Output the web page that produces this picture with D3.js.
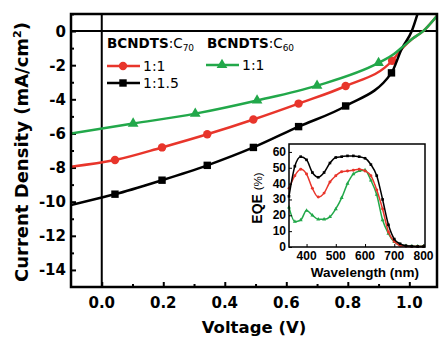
<!DOCTYPE html>
<html>
<head>
<meta charset="utf-8">
<script src="https://cdn.jsdelivr.net/npm/d3@7"></script>
<style>
    body { margin: 0; background: #fff; }
    svg { display: block; }
</style>
</head>
<body>
<svg id="chart_jv"></svg>
<script>
// J-V curves, values
const voltageBlack = [-0.1, 0, 0.043, 0.196, 0.343, 0.493, 0.64, 0.793, 0.942, 0.975, 1.008, 1.03];
const currentBlack = [-10.2, -9.75, -9.56, -8.74, -7.87, -6.82, -5.6, -4.39, -2.45, -1.05, 0, 1.2];
const marksBlack = [2, 3, 4, 5, 6, 7, 8];

const voltageRed = [-0.1, 0.043, 0.196, 0.343, 0.493, 0.64, 0.793, 0.944, 0.98, 1.01, 1.045, 1.09];
const currentRed = [-7.95, -7.56, -6.82, -6.05, -5.18, -4.25, -3.22, -1.74, -0.95, -0.45, 0, 0.9];
const marksRed = [1, 2, 3, 4, 5, 6, 7];

const voltageGreen = [-0.1, 0.102, 0.304, 0.505, 0.70, 0.90, 0.95, 0.98, 1.01, 1.045, 1.09];
const currentGreen = [-6.0, -5.42, -4.84, -4.07, -3.2, -1.87, -1.35, -0.9, -0.45, 0, 0.9];
const marksGreen = [1, 2, 3, 4, 5];

// EQE inset
const wavelength = [340, 360, 380, 400, 420, 440, 460, 480, 500, 520, 540, 560, 580, 600, 620, 640, 660, 680, 700, 720, 740, 760, 780, 800];
const eqeBlack = [32, 51, 57, 55, 47, 44, 47, 53, 56.5, 57, 57.5, 57.5, 57, 56, 52, 45, 30, 14, 5, 2, 0.8, 0.5, 0.3, 0.3];
const eqeRed = [37, 45, 49, 46, 37, 31.5, 34, 41, 45, 47.5, 48, 48.5, 49, 48, 45, 36, 24, 9.5, 3.5, 1, 0.5, 0.3, 0.3, 0.3];
const eqeGreen = [25, 16, 17, 23, 20, 17.5, 17.5, 19, 24, 31, 40, 46, 48, 48.5, 42, 33, 17, 8.5, 3.2, 1.5, 0.8, 0.5, 0.5, 0.5];

// Tick values
const xTicks = [0.0, 0.2, 0.4, 0.6, 0.8, 1.0];
const xMinorTicks = [0.1, 0.3, 0.5, 0.7, 0.9];
const yTicks = [0, -2, -4, -6, -8, -10, -12, -14];
const yMinorTicks = [1, -1, -3, -5, -7, -9, -11, -13];
const insetXTicks = [400, 500, 600, 700, 800];
const insetYTicks = [0, 10, 20, 30, 40, 50, 60];

const red = "#e8352b";
const green = "#22a84a";

const W = 439, H = 339;
const plot = { left: 71, right: 437, top: 14, bottom: 287 };
const inset = { left: 289, right: 425, top: 144, bottom: 247 };
const mainFont = "DejaVu Sans, sans-serif";
const insetFont = "Liberation Sans, Arial, sans-serif";

const svg = d3.select("#chart_jv")
    .attr("width", W)
    .attr("height", H);

svg.append("rect").attr("width", W).attr("height", H).attr("fill", "#fff");

const xScale = d3.scaleLinear().domain([-0.1, 1.09]).range([plot.left, plot.right]);
const yScale = d3.scaleLinear().domain([-15, 1]).range([plot.bottom, plot.top]);

svg.append("clipPath").attr("id", "plotClip")
    .append("rect")
    .attr("x", plot.left).attr("y", plot.top)
    .attr("width", plot.right - plot.left).attr("height", plot.bottom - plot.top);

// Zero lines
svg.append("line")
    .attr("x1", xScale(0)).attr("x2", xScale(0))
    .attr("y1", plot.top).attr("y2", plot.bottom)
    .attr("stroke", "#000").attr("stroke-width", 2);
svg.append("line")
    .attr("x1", plot.left).attr("x2", plot.right)
    .attr("y1", yScale(0)).attr("y2", yScale(0))
    .attr("stroke", "#000").attr("stroke-width", 2);

// Axes (ticks pointing inwards)
svg.append("g").attr("transform", `translate(0, ${plot.bottom})`)
    .call(d3.axisTop(xScale).tickValues(xTicks).tickSize(5).tickFormat(""))
    .call(g => g.select(".domain").remove())
    .selectAll("line").attr("stroke-width", 2);
svg.append("g").attr("transform", `translate(0, ${plot.bottom})`)
    .call(d3.axisTop(xScale).tickValues(xMinorTicks).tickSize(3).tickFormat(""))
    .call(g => g.select(".domain").remove())
    .selectAll("line").attr("stroke-width", 2);

svg.append("g").attr("transform", `translate(${plot.left}, 0)`)
    .call(d3.axisRight(yScale).tickValues(yTicks).tickSize(5).tickFormat(""))
    .call(g => g.select(".domain").remove())
    .selectAll("line").attr("stroke-width", 2);
svg.append("g").attr("transform", `translate(${plot.left}, 0)`)
    .call(d3.axisRight(yScale).tickValues(yMinorTicks).tickSize(3).tickFormat(""))
    .call(g => g.select(".domain").remove())
    .selectAll("line").attr("stroke-width", 2);

// Tick labels
svg.selectAll("xLabel")
    .data(xTicks)
    .join("text")
    .attr("x", d => xScale(d))
    .attr("y", 308)
    .attr("text-anchor", "middle")
    .style("font-family", mainFont).style("font-weight", "bold").style("font-size", "15px")
    .text(d => d3.format(".1f")(d));

svg.selectAll("yLabel")
    .data(yTicks)
    .join("text")
    .attr("x", 66)
    .attr("y", d => yScale(d) + 5.5)
    .attr("text-anchor", "end")
    .style("font-family", mainFont).style("font-weight", "bold").style("font-size", "15px")
    .text(d => d);

// Axis titles
svg.append("text")
    .attr("x", (plot.left + plot.right) / 2)
    .attr("y", 333)
    .attr("text-anchor", "middle")
    .style("font-family", mainFont).style("font-weight", "bold").style("font-size", "16.5px")
    .text("Voltage (V)");

const yTitle = svg.append("text")
    .attr("transform", "translate(28, 152) rotate(-90)")
    .attr("text-anchor", "middle")
    .style("font-family", mainFont).style("font-weight", "bold").style("font-size", "18px");
yTitle.append("tspan").text("Current Density (mA/cm");
yTitle.append("tspan").attr("dy", -7).style("font-size", "11px").text("2");
yTitle.append("tspan").attr("dy", 7).text(")");

// Series
const series = [
    { v: voltageRed, j: currentRed, marks: marksRed, color: red, symbol: d3.symbolCircle, size: 55 },
    { v: voltageBlack, j: currentBlack, marks: marksBlack, color: "#000", symbol: d3.symbolSquare, size: 55 },
    { v: voltageGreen, j: currentGreen, marks: marksGreen, color: green, symbol: d3.symbolTriangle, size: 50 },
];

const lineGenerator = d3.line()
    .x(d => xScale(d[0]))
    .y(d => yScale(d[1]))
    .curve(d3.curveMonotoneX);

const curves = svg.append("g").attr("clip-path", "url(#plotClip)");

series.forEach(s => {
    const pts = s.v.map((v, i) => [v, s.j[i]]);
    curves.append("path")
        .datum(pts)
        .attr("d", lineGenerator)
        .attr("fill", "none")
        .attr("stroke", s.color)
        .attr("stroke-width", 2.5);
    curves.selectAll(null)
        .data(s.marks.map(i => pts[i]))
        .join("path")
        .attr("transform", d => `translate(${xScale(d[0])}, ${yScale(d[1])})`)
        .attr("d", d3.symbol(s.symbol, s.size))
        .attr("fill", s.color);
});

// Frame
svg.append("rect")
    .attr("x", plot.left).attr("y", plot.top)
    .attr("width", plot.right - plot.left).attr("height", plot.bottom - plot.top)
    .attr("fill", "none").attr("stroke", "#000").attr("stroke-width", 2.5);

// Legend
function legendTitle(x, sub) {
    const t = svg.append("text")
        .attr("x", x).attr("y", 48)
        .style("font-family", mainFont).style("font-size", "13.5px");
    t.append("tspan").style("font-weight", "bold").text("BCNDTS");
    t.append("tspan").text(":C");
    t.append("tspan").attr("dy", 3).style("font-size", "9px").text(sub);
}
legendTitle(107, "70");
legendTitle(207, "60");

const legendItems = [
    { x: 107, y: 66, s: series[0], label: "1:1" },
    { x: 107, y: 83, s: series[1], label: "1:1.5" },
    { x: 206, y: 65, s: series[2], label: "1:1" },
];
legendItems.forEach(d => {
    svg.append("line")
        .attr("x1", d.x).attr("x2", d.x + 33)
        .attr("y1", d.y).attr("y2", d.y)
        .attr("stroke", d.s.color).attr("stroke-width", 2.5);
    svg.append("path")
        .attr("transform", `translate(${d.x + 16}, ${d.y})`)
        .attr("d", d3.symbol(d.s.symbol, d.s.size))
        .attr("fill", d.s.color);
    svg.append("text")
        .attr("x", d.x + 36).attr("y", d.y + 5)
        .style("font-family", mainFont).style("font-size", "14px")
        .text(d.label);
});

// Inset EQE plot
const ix = d3.scaleLinear().domain([340, 805]).range([inset.left, inset.right]);
const iy = d3.scaleLinear().domain([0, 65]).range([inset.bottom, inset.top]);

svg.append("rect")
    .attr("x", inset.left).attr("y", inset.top)
    .attr("width", inset.right - inset.left).attr("height", inset.bottom - inset.top)
    .attr("fill", "#fff");

const insetSeries = [
    { y: eqeBlack, color: "#000", symbol: d3.symbolSquare },
    { y: eqeRed, color: red, symbol: d3.symbolCircle },
    { y: eqeGreen, color: green, symbol: d3.symbolTriangle },
];
const insetLine = d3.line()
    .x(d => ix(d[0]))
    .y(d => iy(d[1]))
    .curve(d3.curveMonotoneX);

insetSeries.slice().reverse().forEach(s => {
    const pts = wavelength.map((w, i) => [w, s.y[i]]);
    svg.append("path")
        .datum(pts)
        .attr("d", insetLine)
        .attr("fill", "none")
        .attr("stroke", s.color)
        .attr("stroke-width", 1.5);
    svg.selectAll(null)
        .data(pts)
        .join("path")
        .attr("transform", d => `translate(${ix(d[0])}, ${iy(d[1])})`)
        .attr("d", d3.symbol(s.symbol, 7))
        .attr("fill", s.color);
});

svg.append("g").attr("transform", `translate(0, ${inset.bottom})`)
    .call(d3.axisTop(ix).tickValues(insetXTicks).tickSize(3).tickFormat(""))
    .call(g => g.select(".domain").remove());
svg.append("g").attr("transform", `translate(${inset.left}, 0)`)
    .call(d3.axisRight(iy).tickValues(insetYTicks).tickSize(3).tickFormat(""))
    .call(g => g.select(".domain").remove());

svg.append("rect")
    .attr("x", inset.left).attr("y", inset.top)
    .attr("width", inset.right - inset.left).attr("height", inset.bottom - inset.top)
    .attr("fill", "none").attr("stroke", "#000").attr("stroke-width", 1.5);

svg.selectAll("insetXLabel")
    .data(insetXTicks)
    .join("text")
    .attr("x", d => ix(d))
    .attr("y", 260)
    .attr("text-anchor", "middle")
    .style("font-family", insetFont).style("font-weight", "bold").style("font-size", "12px")
    .text(d => d);

svg.selectAll("insetYLabel")
    .data(insetYTicks)
    .join("text")
    .attr("x", 286)
    .attr("y", d => iy(d) + 4)
    .attr("text-anchor", "end")
    .style("font-family", insetFont).style("font-weight", "bold").style("font-size", "12px")
    .text(d => d);

svg.append("text")
    .attr("x", (inset.left + inset.right) / 2 + 8)
    .attr("y", 277)
    .attr("text-anchor", "middle")
    .style("font-family", insetFont).style("font-weight", "bold").style("font-size", "13.5px")
    .text("Wavelength (nm)");

const eqeTitle = svg.append("text")
    .attr("transform", "translate(262, 198) rotate(-90)")
    .attr("text-anchor", "middle")
    .style("font-family", insetFont).style("font-size", "14px");
eqeTitle.append("tspan").style("font-weight", "bold").text("EQE ");
eqeTitle.append("tspan").style("font-size", "11.5px").text("(%)");
</script>
</body>
</html>
